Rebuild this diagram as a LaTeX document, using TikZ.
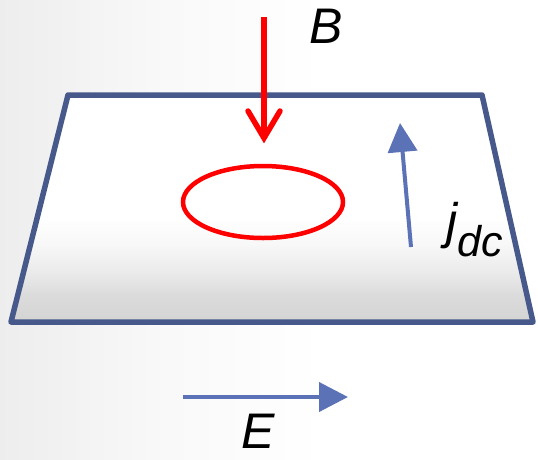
\documentclass[tikz,border=0pt]{standalone}
\usepackage{fontspec}
\setmainfont{Liberation Sans}
\usetikzlibrary{arrows.meta}
\definecolor{platecol}{HTML}{46598A}
\definecolor{arrblue}{HTML}{5B73B6}
\definecolor{bred}{HTML}{FF0000}
\pgfdeclarehorizontalshading{bgshade}{100bp}{color(0bp)=(black!7); color(25bp)=(black!7); color(40bp)=(black!2.5); color(55bp)=(white); color(100bp)=(white)}
\pgfdeclareverticalshading{plateshade}{100bp}{color(0bp)=(black!17); color(25bp)=(black!17); color(31bp)=(black!14); color(36bp)=(black!8); color(42bp)=(black!3); color(48bp)=(white); color(100bp)=(white)}
\tikzset{
  lbl/.style={font=\fontsize{50}{60}\selectfont\itshape, inner sep=0pt},
  bluearrow/.style={draw=arrblue, line width=4pt, -{Triangle[length=29pt,width=29pt]}},
  redline/.style={draw=bred, line width=5.5pt},
}
\begin{document}
\begin{tikzpicture}[x=1pt,y=-1pt]
\useasboundingbox (0,0) rectangle (538,459);
\shade[shading=bgshade] (0,0) rectangle (538,459);
% plate
\shade[shading=plateshade] (68,95) -- (482,95) -- (533,322) -- (11,322) -- cycle;
\draw[platecol, line width=5.5pt, line join=round] (68,95) -- (482,95) -- (533,322) -- (11,322) -- cycle;
% loop
\draw[redline, line width=4.5pt] (263,202) ellipse [x radius=80, y radius=36];
% B arrow
\coordinate (btop) at (264,17);
\coordinate (btip) at (264,138);
\draw[redline] (btop) -- (btip);
\draw[redline, line cap=round, line join=miter] (248,111) -- (btip) -- (280,111);
\node[lbl, anchor=base] (B) at (326,43) {B};
% j_dc arrow
\coordinate (jbot) at (411,247);
\coordinate (jtip) at (400,123);
\draw[bluearrow] (jbot) -- (jtip);
\node[lbl, anchor=base west] (j) at (446,238) {j\raisebox{-18pt}{\fontsize{43}{50}\selectfont dc}};
% E arrow
\coordinate (eleft) at (183,397);
\coordinate (eright) at (348,397);
\draw[bluearrow] (eleft) -- (eright);
\node[lbl, anchor=base] (E) at (258,448) {E};
\end{tikzpicture}
\end{document}
